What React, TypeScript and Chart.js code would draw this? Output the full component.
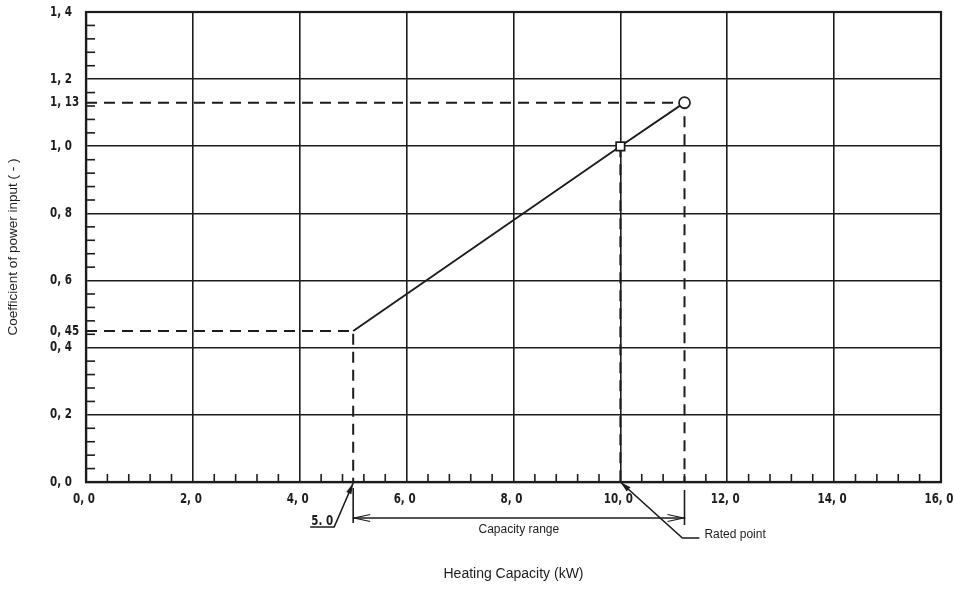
import React, { useEffect, useRef } from "react";
import { Chart, registerables } from "chart.js";

Chart.register(...registerables);

// ---- data ----
const xTickValues = [0, 2, 4, 6, 8, 10, 12, 14, 16];
const xTickLabels = ["0, 0", "2, 0", "4, 0", "6, 0", "8, 0", "10, 0", "12, 0", "14, 0", "16, 0"];
const yGridValues = [0, 0.2, 0.4, 0.6, 0.8, 1.0, 1.2, 1.4];
const yTickValues = [0, 0.2, 0.4, 0.45, 0.6, 0.8, 1.0, 1.13, 1.2, 1.4];
const yTickLabels = ["0, 0", "0, 2", "0, 4", "0, 45", "0, 6", "0, 8", "1, 0", "1, 13", "1, 2", "1, 4"];
const capacity = [5.0, 10.0, 11.2]; // kW: minimum, rated, maximum
const powerCoef = [0.45, 1.0, 1.13];
const pointStyles = ["circle", "rect", "circle"];
const pointRadii = [0, 6, 5.5];
const minorStepX = 0.4;
const minorStepY = 0.04;
const minLabel = "5. 0";
const rangeLabel = "Capacity range";
const ratedLabel = "Rated point";
const xTitle = "Heating Capacity (kW)";
const yTitle = "Coefficient of power input ( - )";

const INK = "#1c1c1c";
const TICK_FONT = "'DejaVu Sans Condensed', 'Liberation Sans Narrow', 'DejaVu Sans', sans-serif";
const TEXT_FONT = "'Liberation Sans', Arial, sans-serif";
const SQUEEZE = 0.82;

function arrowHead(ctx: CanvasRenderingContext2D, tipX: number, tipY: number, fromX: number, fromY: number, len: number, half: number, filled: boolean) {
  const a = Math.atan2(tipY - fromY, tipX - fromX);
  const bx = tipX - len * Math.cos(a);
  const by = tipY - len * Math.sin(a);
  const nx = -Math.sin(a) * half;
  const ny = Math.cos(a) * half;
  ctx.beginPath();
  ctx.moveTo(bx + nx, by + ny);
  ctx.lineTo(tipX, tipY);
  ctx.lineTo(bx - nx, by - ny);
  if (filled) {
    ctx.closePath();
    ctx.fill();
  } else {
    ctx.stroke();
  }
}

// draw condensed bold text (x position is the anchor for given align)
function squeezedText(ctx: CanvasRenderingContext2D, text: string, x: number, y: number, align: CanvasTextAlign) {
  ctx.save();
  ctx.translate(x, y);
  ctx.scale(SQUEEZE, 1);
  ctx.textAlign = align;
  ctx.fillText(text, 0, 0);
  ctx.restore();
}

const decorPlugin = {
  id: "decor",
  afterDraw(chart: any) {
    const { ctx, chartArea } = chart;
    const xs = chart.scales.x;
    const ys = chart.scales.y;
    const { left, right, top, bottom } = chartArea;
    ctx.save();
    ctx.strokeStyle = INK;
    ctx.fillStyle = INK;

    // frame
    ctx.lineWidth = 2.2;
    ctx.strokeRect(left, top, right - left, bottom - top);

    // minor ticks x
    ctx.lineWidth = 1.6;
    const nX = Math.round(16 / minorStepX);
    for (let i = 1; i < nX; i++) {
      if (i % 5 === 0) continue;
      const px = xs.getPixelForValue(i * minorStepX);
      ctx.beginPath();
      ctx.moveTo(px, bottom);
      ctx.lineTo(px, bottom - 8);
      ctx.stroke();
    }
    // minor ticks y
    const nY = Math.round(1.4 / minorStepY);
    for (let i = 1; i < nY; i++) {
      if (i % 5 === 0) continue;
      const py = ys.getPixelForValue(i * minorStepY);
      ctx.beginPath();
      ctx.moveTo(left, py);
      ctx.lineTo(left + 9, py);
      ctx.stroke();
    }

    // tick labels
    ctx.font = "bold 14px " + TICK_FONT;
    ctx.textBaseline = "middle";
    yTickValues.forEach((v, i) => {
      squeezedText(ctx, yTickLabels[i], left - 36, ys.getPixelForValue(v), "left");
    });
    xTickValues.forEach((v, i) => {
      squeezedText(ctx, xTickLabels[i], xs.getPixelForValue(v) - 2, bottom + 17, "center");
    });

    // annotations below the axis
    const pMin = xs.getPixelForValue(capacity[0]);
    const pRated = xs.getPixelForValue(capacity[1]);
    const pMax = xs.getPixelForValue(capacity[2]);
    ctx.lineWidth = 1.6;
    ctx.setLineDash([]);
    // extension lines
    ctx.beginPath();
    ctx.moveTo(pMin, bottom + 6);
    ctx.lineTo(pMin, bottom + 41);
    ctx.moveTo(pMax, bottom + 8);
    ctx.lineTo(pMax, bottom + 43);
    ctx.stroke();
    // range arrow
    const ry = bottom + 36;
    ctx.beginPath();
    ctx.moveTo(pMin, ry);
    ctx.lineTo(pMax, ry);
    ctx.stroke();
    ctx.lineWidth = 1.2;
    arrowHead(ctx, pMin + 1, ry, pMax, ry, 16, 3.5, false);
    arrowHead(ctx, pMax - 1, ry, pMin, ry, 16, 3.5, false);
    ctx.font = "12px " + TEXT_FONT;
    ctx.textAlign = "center";
    ctx.textBaseline = "middle";
    ctx.fillText(rangeLabel, (pMin + pMax) / 2, bottom + 48);

    // 5.0 label with leader
    ctx.font = "bold 14px " + TICK_FONT;
    ctx.textBaseline = "alphabetic";
    squeezedText(ctx, minLabel, pMin - 20, bottom + 43, "right");
    ctx.lineWidth = 1.6;
    ctx.beginPath();
    ctx.moveTo(pMin - 43, bottom + 45);
    ctx.lineTo(pMin - 19, bottom + 45);
    ctx.lineTo(pMin, bottom + 1);
    ctx.stroke();
    arrowHead(ctx, pMin, bottom + 1, pMin - 19, bottom + 45, 11, 2.8, true);

    // rated point leader
    ctx.beginPath();
    ctx.moveTo(pRated, bottom);
    ctx.lineTo(pRated + 62, bottom + 56);
    ctx.lineTo(pRated + 79, bottom + 56);
    ctx.stroke();
    arrowHead(ctx, pRated, bottom, pRated + 62, bottom + 56, 11, 2.8, true);
    ctx.font = "12px " + TEXT_FONT;
    ctx.textAlign = "left";
    ctx.textBaseline = "middle";
    ctx.fillText(ratedLabel, pRated + 84, bottom + 53);

    ctx.restore();
  },
};

export default function App() {
  const canvasRef = useRef<HTMLCanvasElement | null>(null);

  useEffect(() => {
    const canvas = canvasRef.current;
    if (!canvas) return;
    const mainPts = capacity.map((x, i) => ({ x, y: powerCoef[i] }));
    const dash = [11, 7];
    const chart = new Chart(canvas, {
      type: "scatter",
      data: {
        datasets: [
          {
            label: "coefficient",
            data: mainPts,
            showLine: true,
            borderColor: INK,
            borderWidth: 1.9,
            pointStyle: pointStyles as any,
            pointRadius: pointRadii,
            pointBorderWidth: 1.7,
            pointBorderColor: INK,
            pointBackgroundColor: "#ffffff",
          },
          {
            label: "min",
            data: [
              { x: 0, y: powerCoef[0] },
              { x: capacity[0], y: powerCoef[0] },
              { x: capacity[0], y: 0 },
            ],
            showLine: true,
            borderColor: INK,
            borderWidth: 2,
            borderDash: dash,
            pointRadius: 0,
          },
          {
            label: "rated",
            data: [
              { x: capacity[1], y: powerCoef[1] },
              { x: capacity[1], y: 0 },
            ],
            showLine: true,
            borderColor: INK,
            borderWidth: 2,
            borderDash: dash,
            pointRadius: 0,
          },
          {
            label: "max",
            data: [
              { x: 0, y: powerCoef[2] },
              { x: capacity[2], y: powerCoef[2] },
              { x: capacity[2], y: 0 },
            ],
            showLine: true,
            borderColor: INK,
            borderWidth: 2,
            borderDash: dash,
            pointRadius: 0,
          },
        ],
      },
      options: {
        responsive: false,
        animation: false,
        devicePixelRatio: 1,
        layout: { padding: { left: 0, right: 14, top: 12, bottom: 0 } },
        plugins: {
          legend: { display: false },
          tooltip: { enabled: false },
        },
        scales: {
          x: {
            type: "linear",
            min: 0,
            max: 16,
            afterBuildTicks: (s: any) => {
              s.ticks = xTickValues.map((v) => ({ value: v }));
            },
            afterFit: (s: any) => {
              s.height = 107;
              s.paddingLeft = 0;
              s.paddingRight = 0;
              s.paddingTop = 0;
              s.paddingBottom = 0;
            },
            grid: { color: INK, lineWidth: 1.6, drawTicks: false },
            border: { color: INK, width: 2.2 },
            ticks: { display: false },
            title: {
              display: true,
              text: xTitle,
              color: INK,
              font: { family: TEXT_FONT, size: 14 },
              padding: { top: 0, bottom: 6 },
            },
          },
          y: {
            type: "linear",
            min: 0,
            max: 1.4,
            afterBuildTicks: (s: any) => {
              s.ticks = yGridValues.map((v) => ({ value: v }));
            },
            afterFit: (s: any) => {
              s.width = 86;
              s.paddingLeft = 0;
              s.paddingRight = 0;
              s.paddingTop = 0;
              s.paddingBottom = 0;
            },
            grid: { color: INK, lineWidth: 1.6, drawTicks: false },
            border: { color: INK, width: 2.2 },
            ticks: { display: false },
            title: {
              display: true,
              text: yTitle,
              color: INK,
              font: { family: TEXT_FONT, size: 13.5 },
              padding: { top: 5, bottom: 0 },
            },
          },
        },
      },
      plugins: [decorPlugin],
    } as any);
    return () => chart.destroy();
  }, []);

  return (
    <div style={{ position: "fixed", left: 0, top: 0, width: 955, height: 589, background: "#ffffff" }}>
      <canvas ref={canvasRef} width={955} height={589} style={{ display: "block" }} />
    </div>
  );
}
